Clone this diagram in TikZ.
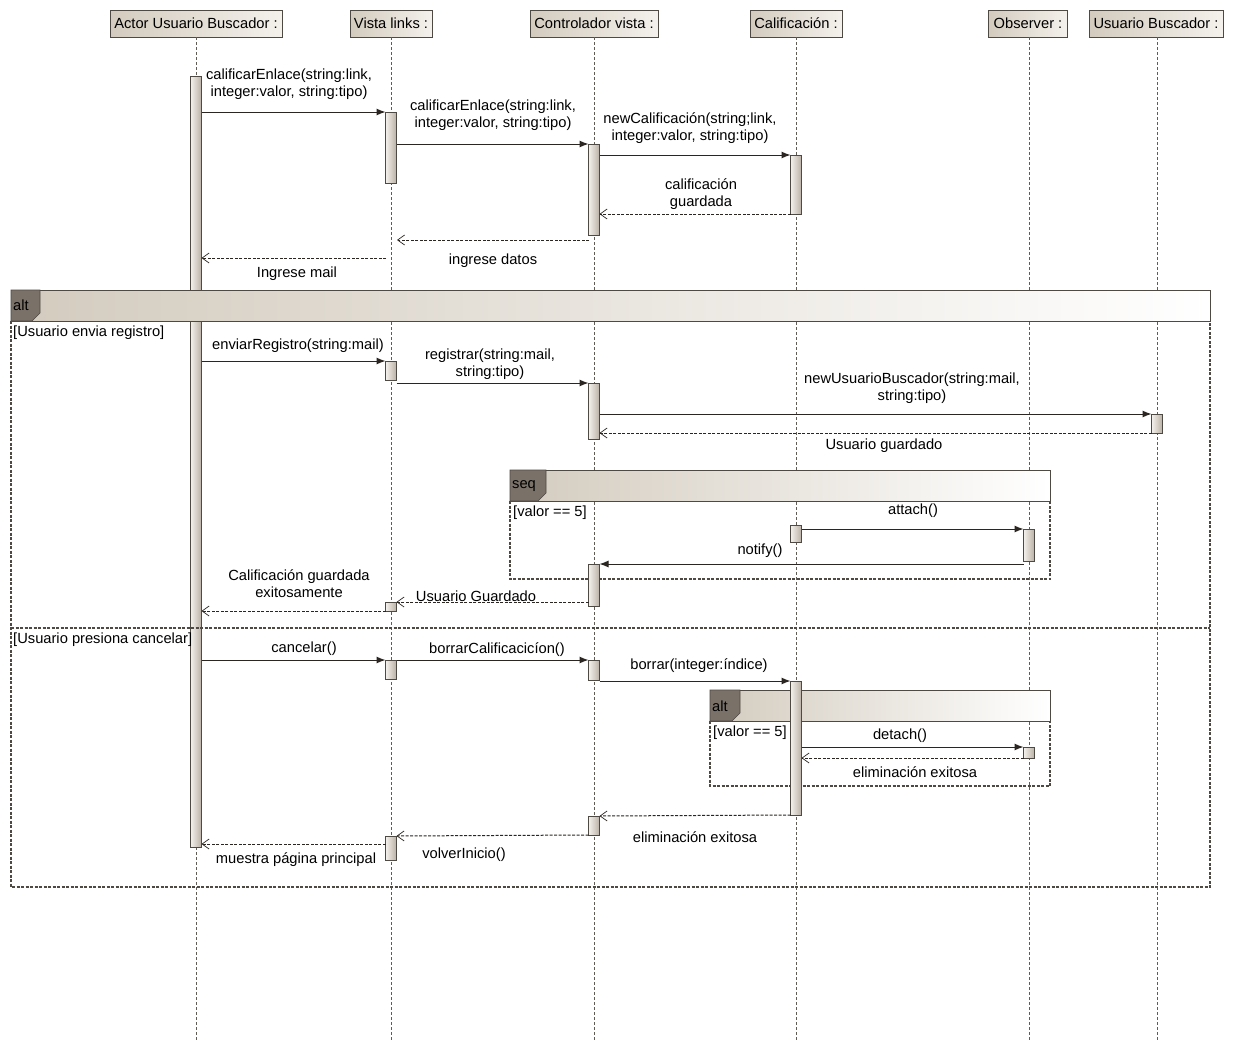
\documentclass[tikz,border=0pt]{standalone}
\usepackage{fontspec}
\setmainfont{Liberation Sans}
\usetikzlibrary{arrows.meta}
\definecolor{ink}{HTML}{2B2622}
\definecolor{frame}{HTML}{4F4943}
\definecolor{tan}{HTML}{D3CBBE}
\definecolor{taglight}{HTML}{F4F1EC}
\definecolor{tagdark}{HTML}{7A7169}
\definecolor{barlight}{HTML}{F4F1EC}
\definecolor{bardark}{HTML}{B9B0A5}
\begin{document}
\begin{tikzpicture}[x=1pt,y=-1pt,
  font=\fontsize{14.7}{17}\selectfont,
  head/.style={draw=frame, line width=0.8pt, left color=tan, right color=taglight,
    minimum height=27pt, inner sep=0pt, outer sep=0pt},
  life/.style={draw=frame!90, line width=0.7pt, dash pattern=on 3pt off 2pt},
  actbar/.style={draw=frame, line width=0.8pt, left color=barlight, right color=bardark,
    minimum width=11pt, inner sep=0pt, outer sep=0pt, anchor=north},
  msg/.style={draw=ink, line width=1pt, -{Latex[length=9pt,width=7pt]}},
  ret/.style={draw=ink, line width=1pt, dash pattern=on 3pt off 1.5pt,
    -{Straight Barb[length=7pt,width=10pt,line width=0.7pt]}},
  lbl/.style={align=center, inner sep=0pt, yshift=-1.5pt},
  guard/.style={anchor=west, inner sep=0pt, yshift=-1.5pt},
  band/.style={draw=frame, line width=1pt, left color=tan, right color=white},
  body/.style={draw=frame, line width=1.1pt, dash pattern=on 3pt off 1.5pt},
  optag/.style={fill=tagdark, draw=frame, line width=0.6pt},
]
\useasboundingbox[fill=white] (0,0) rectangle (1235,1047);

% participants
\node[head, minimum width=172pt] (hA) at (196,23.5) {Actor Usuario Buscador :};
\node[head, minimum width=82pt]  (hV) at (391,23.5) {Vista links :};
\node[head, minimum width=128pt] (hC) at (594,23.5) {Controlador vista :};
\node[head, minimum width=92pt]  (hK) at (796,23.5) {Calificación :};
\node[head, minimum width=79pt]  (hO) at (1028,23.5) {Observer :};
\node[head, minimum width=134pt] (hU) at (1156,23.5) {Usuario Buscador :};

% lifelines
\coordinate (endA) at (196,1040);
\coordinate (endV) at (391,1040);
\coordinate (endC) at (594,1040);
\coordinate (endK) at (796,1040);
\coordinate (endO) at (1029,1040);
\coordinate (endU) at (1157,1040);
\draw[life] (196,37) -- (endA);
\draw[life] (391,37) -- (endV);
\draw[life] (594,37) -- (endC);
\draw[life] (796,37) -- (endK);
\draw[life] (1029,37) -- (endO);
\draw[life] (1157,37) -- (endU);

% actor activation
\node[actbar, minimum height=771pt] (aB) at (196,76) {};

% outer alt fragment
\draw[body] (11,321) rectangle (1210,887);
\draw[body] (11,628) -- (1210,628);
\draw[band] (11,290) rectangle (1210,321);
\draw[optag] (11,290) -- (40,290) -- (40,313) -- (32,321) -- (11,321) -- cycle;
\node[guard] (tagA) at (13,304) {alt};
\node[guard] (gA1) at (13,331) {[Usuario envia registro]};
\node[guard] (gA2) at (13,638) {[Usuario presiona cancelar]};

% seq fragment
\draw[body] (510,501) rectangle (1050,579);
\draw[band] (510,470) rectangle (1050,501);
\draw[optag] (510,470) -- (546,470) -- (546,493) -- (538,501) -- (510,501) -- cycle;
\node[guard] (tagS) at (512,485) {seq};
\node[guard] (gS) at (513,511) {[valor == 5]};

% inner alt fragment
\draw[body] (710,721) rectangle (1050,786);
\draw[band] (710,690) rectangle (1050,721);
\draw[optag] (710,690) -- (740,690) -- (740,713) -- (732,721) -- (710,721) -- cycle;
\node[guard] (tagB) at (712,705) {alt};
\node[guard] (gB) at (713,731) {[valor == 5]};

% activations
\node[actbar, minimum height=71pt]  (v1) at (391,112) {};
\node[actbar, minimum height=91pt]  (c1) at (594,144) {};
\node[actbar, minimum height=59pt]  (k1) at (796,155) {};
\node[actbar, minimum height=19pt]  (v2) at (391,361) {};
\node[actbar, minimum height=56pt]  (c2) at (594,383) {};
\node[actbar, minimum height=19pt]  (u1) at (1157,414) {};
\node[actbar, minimum height=17pt]  (k2) at (796,525) {};
\node[actbar, minimum height=32pt]  (o1) at (1029,529) {};
\node[actbar, minimum height=42pt]  (c3) at (594,564) {};
\node[actbar, minimum height=9pt]   (v3) at (391,602) {};
\node[actbar, minimum height=19pt]  (v4) at (391,660) {};
\node[actbar, minimum height=20pt]  (c4) at (594,660) {};
\node[actbar, minimum height=134pt] (k3) at (796,681) {};
\node[actbar, minimum height=11pt]  (o2) at (1029,747) {};
\node[actbar, minimum height=19pt]  (c5) at (594,816) {};
\node[actbar, minimum height=24pt]  (v5) at (391,836) {};

% free ends of replies
\coordinate (r5s) at (589,240);
\coordinate (r5e) at (397,240);
\coordinate (r6s) at (386,258);

% first exchange
\draw[msg] (aB.east |- v1.north) -- (v1.north west);
\draw[msg] (v1.east |- c1.north) -- (c1.north west);
\draw[msg] (c1.east |- k1.north) -- (k1.north west);
\draw[ret] (k1.south west) -- (c1.east |- k1.south);
\draw[ret] (r5s) -- (r5e);
\draw[ret] (r6s) -- (aB.east |- r6s);

\node[lbl] at (289,82.5) {calificarEnlace(string:link,\\integer:valor, string:tipo)};
\node[lbl] at (493,114) {calificarEnlace(string:link,\\integer:valor, string:tipo)};
\node[lbl] at (690,127) {newCalificación(string;link,\\integer:valor, string:tipo)};
\node[lbl] at (701,193) {calificación\\guardada};
\node[lbl] at (493,259) {ingrese datos};
\node[lbl] at (297,272) {Ingrese mail};

% registration
\draw[msg] (aB.east |- v2.north) -- (v2.north west);
\draw[msg] (v2.east |- c2.north) -- (c2.north west);
\draw[msg] (c2.east |- u1.north) -- (u1.north west);
\draw[ret] (u1.south west) -- (c2.east |- u1.south);
\draw[msg] (k2.east |- o1.north) -- (o1.north west);
\draw[msg] (o1.west |- c3.north) -- (c3.north east);
\draw[ret] (c3.west |- v3.north) -- (v3.north east);
\draw[ret] (v3.south west) -- (aB.east |- v3.south);

\node[lbl] at (298,344) {enviarRegistro(string:mail)};
\node[lbl] at (490,363) {registrar(string:mail,\\string:tipo)};
\node[lbl] at (912,387) {newUsuarioBuscador(string:mail,\\string:tipo)};
\node[lbl] at (884,444) {Usuario guardado};
\node[lbl] at (913,509) {attach()};
\node[lbl] at (760,549) {notify()};
\node[lbl] at (476,595) {Usuario Guardado};
\node[lbl] at (299,582) {Calificación guardada\\exitosamente};

% cancellation
\draw[msg] (aB.east |- v4.north) -- (v4.north west);
\draw[msg] (v4.north east) -- (c4.north west);
\draw[msg] (c4.east |- k3.north) -- (k3.north west);
\draw[msg] (k3.east |- o2.north) -- (o2.north west);
\draw[ret] (o2.south west) -- (k3.east |- o2.south);
\draw[ret] (k3.south west) -- (c5.north east);
\draw[ret] (c5.south west) -- (v5.north east);
\draw[ret] (v5.west |- 0,844) -- (aB.east |- 0,844);

\node[lbl] at (304,647) {cancelar()};
\node[lbl] at (497,648) {borrarCalificacicíon()};
\node[lbl] at (699,664) {borrar(integer:índice)};
\node[lbl] at (900,734) {detach()};
\node[lbl] at (915,771) {eliminación exitosa};
\node[lbl] at (695,836) {eliminación exitosa};
\node[lbl] at (464,853) {volverInicio()};
\node[lbl] at (296,858) {muestra página principal};
\end{tikzpicture}
\end{document}
